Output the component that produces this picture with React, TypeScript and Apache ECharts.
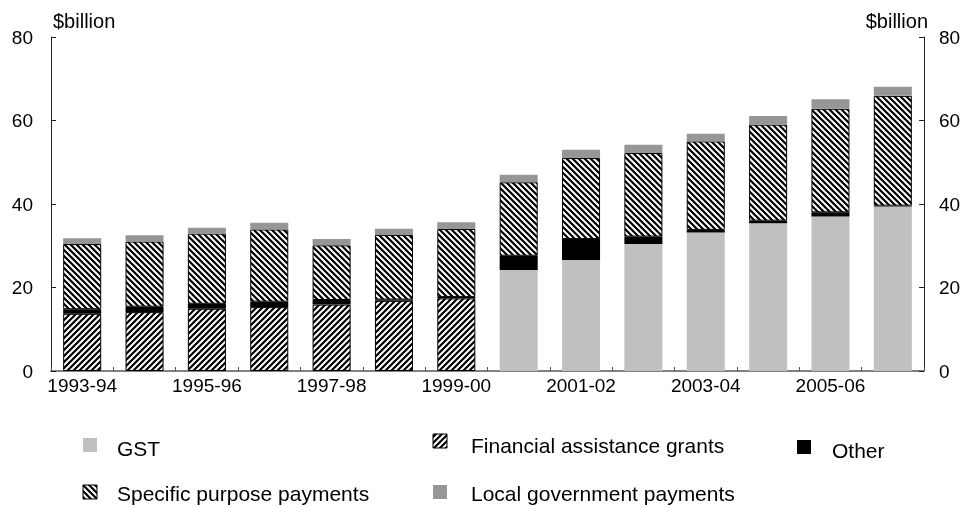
import React, { useEffect, useRef } from "react";
import * as echarts from "echarts";

const categories = [
  "1993-94", "1994-95", "1995-96", "1996-97", "1997-98", "1998-99", "1999-00",
  "2000-01", "2001-02", "2002-03", "2003-04", "2004-05", "2005-06", "2006-07",
];
const gst = [0, 0, 0, 0, 0, 0, 0, 24.2, 26.6, 30.4, 33.2, 35.4, 37.0, 39.4];
const fag = [13.7, 14.1, 14.9, 15.3, 15.9, 16.8, 17.4, 0, 0, 0, 0, 0, 0, 0];
const other = [1.1, 1.3, 1.2, 1.3, 1.1, 0.3, 0.3, 3.4, 5.0, 1.8, 0.6, 0.6, 1.0, 0.2];
const spp = [15.6, 15.6, 16.8, 17.3, 13.1, 15.5, 16.3, 17.6, 19.4, 20.0, 21.2, 23.0, 24.8, 26.3];
const lgp = [1.4, 1.5, 1.4, 1.6, 1.5, 1.5, 1.6, 1.8, 2.0, 2.0, 1.8, 2.1, 2.3, 2.2];
const yTicks = [0, 20, 40, 60, 80];
const legendNames = [
  "GST",
  "Financial assistance grants",
  "Other",
  "Specific purpose payments",
  "Local government payments",
];

const GST_COLOR = "#c0c0c0";
const LGP_COLOR = "#969696";
const FONT = "'Liberation Sans', Arial, sans-serif";

function makeHatch(forward: boolean) {
  const s = 6;
  const c = document.createElement("canvas");
  c.width = s;
  c.height = s;
  const ctx = c.getContext("2d")!;
  ctx.fillStyle = "#fff";
  ctx.fillRect(0, 0, s, s);
  ctx.strokeStyle = "#000";
  ctx.lineWidth = 2.2;
  ctx.beginPath();
  if (forward) {
    for (const k of [0, s, 2 * s]) {
      ctx.moveTo(k + 1, -1);
      ctx.lineTo(k - s - 1, s + 1);
    }
  } else {
    for (const k of [-s, 0, s]) {
      ctx.moveTo(k - 1, -1);
      ctx.lineTo(k + s + 1, s + 1);
    }
  }
  ctx.stroke();
  return { image: c, repeat: "repeat", imageWidth: s, imageHeight: s } as any;
}

const nz = (arr: number[]) => arr.map((v) => (v === 0 ? "-" : v));

export default function App() {
  const ref = useRef<HTMLDivElement>(null);
  useEffect(() => {
    if (!ref.current) return;
    const chart = echarts.init(ref.current, null, { renderer: "svg" });
    const fwd = makeHatch(true);
    const back = makeHatch(false);
    const yAxisBase = {
      type: "value",
      min: yTicks[0],
      max: yTicks[yTicks.length - 1],
      interval: yTicks[1] - yTicks[0],
      splitLine: { show: false },
      axisLine: { show: true, lineStyle: { color: "#222", width: 1 } },
      axisTick: { show: true, inside: true, length: 5, lineStyle: { color: "#222" } },
      axisLabel: { color: "#000", fontSize: 19, fontFamily: FONT },
    };
    const iconSize = 14;
    const legendPos = [
      { ix: 83, iy: 438, tx: 117, ty: 448 },
      { ix: 433, iy: 434, tx: 471, ty: 445 },
      { ix: 797, iy: 440, tx: 832, ty: 450 },
      { ix: 83, iy: 485, tx: 117, ty: 493 },
      { ix: 433, iy: 485, tx: 471, ty: 493 },
    ];
    const legendFills = [GST_COLOR, fwd, "#000", back, LGP_COLOR];
    const legendStroke = [null, "#000", null, "#000", null];
    const legendGraphics: any[] = [];
    legendNames.forEach((name, i) => {
      const p = legendPos[i];
      legendGraphics.push({
        type: "rect",
        shape: { x: p.ix, y: p.iy, width: iconSize, height: iconSize },
        style: {
          fill: legendFills[i],
          stroke: legendStroke[i] || undefined,
          lineWidth: legendStroke[i] ? 1 : 0,
        },
      });
      legendGraphics.push({
        type: "text",
        x: p.tx,
        y: p.ty,
        style: {
          text: name,
          fontSize: 21,
          fontFamily: FONT,
          fill: "#000",
          textVerticalAlign: "middle",
          verticalAlign: "middle",
        },
      });
    });

    chart.setOption({
      animation: false,
      grid: { left: 51, right: 42, top: 37, bottom: 136, containLabel: false },
      xAxis: {
        type: "category",
        data: categories,
        boundaryGap: true,
        axisLine: { show: true, lineStyle: { color: "#808080", width: 2 } },
        axisTick: {
          show: true,
          inside: true,
          length: 4,
          interval: 0,
          lineStyle: { color: "#555" },
        },
        axisLabel: {
          interval: 1,
          color: "#000",
          fontSize: 19,
          fontFamily: FONT,
          margin: 5,
        },
      },
      yAxis: [
        { ...yAxisBase, position: "left", axisLabel: { ...yAxisBase.axisLabel, margin: 18 } },
        { ...yAxisBase, position: "right", axisLabel: { ...yAxisBase.axisLabel, margin: 15 } },
      ],
      series: [
        {
          name: legendNames[0],
          type: "bar",
          stack: "total",
          data: nz(gst),
          barCategoryGap: "39%",
          itemStyle: { color: GST_COLOR },
        },
        {
          name: legendNames[1],
          type: "bar",
          stack: "total",
          data: nz(fag),
          itemStyle: { color: fwd, borderColor: "#000", borderWidth: 1 },
        },
        {
          name: legendNames[2],
          type: "bar",
          stack: "total",
          data: nz(other),
          itemStyle: { color: "#000" },
        },
        {
          name: legendNames[3],
          type: "bar",
          stack: "total",
          data: nz(spp),
          itemStyle: { color: back, borderColor: "#000", borderWidth: 1 },
        },
        {
          name: legendNames[4],
          type: "bar",
          stack: "total",
          data: nz(lgp),
          itemStyle: { color: LGP_COLOR },
        },
      ],
      graphic: [
        {
          type: "text",
          x: 53,
          y: 21,
          style: {
            text: "$billion",
            fontSize: 20,
            fontFamily: FONT,
            fill: "#000",
            verticalAlign: "middle",
          },
        },
        {
          type: "text",
          x: 928,
          y: 21,
          style: {
            text: "$billion",
            fontSize: 20,
            fontFamily: FONT,
            fill: "#000",
            align: "right",
            verticalAlign: "middle",
          },
        },
        ...legendGraphics,
      ],
    });
    return () => chart.dispose();
  }, []);
  return (
    <div
      ref={ref}
      style={{ position: "fixed", left: 0, top: 0, width: 966, height: 507 }}
    />
  );
}
